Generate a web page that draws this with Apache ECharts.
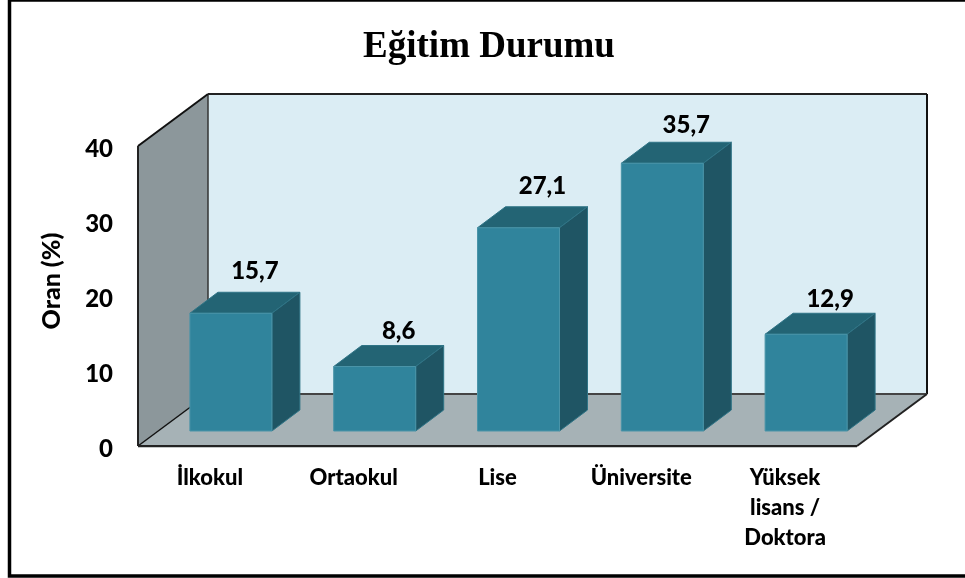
<!DOCTYPE html>
<html>
<head>
<meta charset="utf-8">
<style>html,body{margin:0;padding:0;background:#fff}#chart{width:965px;height:578px}</style>
<script src="https://cdn.jsdelivr.net/npm/echarts@6/dist/echarts.min.js"></script>
</head>
<body>
<div id="chart"></div>
<script>
var categories = ['İlkokul', 'Ortaokul', 'Lise', 'Üniversite', 'Yüksek\nlisans /\nDoktora'];
var values = [15.7, 8.6, 27.1, 35.7, 12.9];
var yTicks = [0, 10, 20, 30, 40];

// 3d look, in pixels
var depthX = 70, depthY = 52;
var barDepthX = 28, barDepthY = 21;
var barShiftX = 21, barShiftY = 15;
var barWidth = 82;
var labelLift = [42, 35, 41, 38, 35];

function poly(points, fill, stroke, lineWidth) {
	return {
		type: 'polygon',
		shape: { points: points },
		style: { fill: fill, stroke: stroke || null, lineWidth: lineWidth || 0 }
	};
}
function line(x1, y1, x2, y2, color, w) {
	return {
		type: 'line',
		shape: { x1: x1, y1: y1, x2: x2, y2: y2 },
		style: { stroke: color, lineWidth: w }
	};
}

// walls and floor, from the axis rectangle
function renderWalls(params, api) {
	var c = params.coordSys;
	var l = c.x, r = c.x + c.width, t = c.y, b = c.y + c.height;
	var dx = depthX, dy = depthY;
	return {
		type: 'group',
		children: [
			poly([[l + dx, t - dy], [r + dx, t - dy], [r + dx, b - dy], [l + dx, b - dy]], '#dbedf4'),
			poly([[l, t], [l + dx, t - dy], [l + dx, b - dy], [l, b]], '#8c979b'),
			poly([[l, b], [l + dx, b - dy], [r + dx, b - dy], [r, b]], '#a6b2b6'),
			line(l + dx, t - dy, r + dx, t - dy, '#222', 2),
			line(r + dx, t - dy, r + dx, b - dy, '#111', 2),
			line(l + dx, t - dy, l + dx, b - dy, '#333', 1.5),
			line(l + dx, b - dy, r + dx, b - dy, '#444', 2),
			line(l, t, l + dx, t - dy, '#111', 2),
			line(l, t, l, b, '#222', 2),
			line(l, b, l + dx, b - dy, '#111', 1.5),
			line(l, b + 1, r, b + 1, '#8a8f90', 1),
			line(l, b, r, b, '#222', 2),
			line(r, b, r + dx, b - dy, '#222', 2)
		]
	};
}

function renderBar(params, api) {
	var i = api.value(0);
	var top = api.coord([i, api.value(1)]);
	var base = api.coord([i, 0]);
	var x0 = top[0] + barShiftX - barWidth / 2;
	var x1 = x0 + barWidth;
	var y0 = top[1] - barShiftY;
	var y1 = base[1] - barShiftY;
	var ax = barDepthX, ay = barDepthY;
	return {
		type: 'group',
		children: [
			poly([[x0, y0], [x0 + ax, y0 - ay], [x1 + ax, y0 - ay], [x1, y0]], '#236474', '#2f7486', 1),
			poly([[x1, y0], [x1 + ax, y0 - ay], [x1 + ax, y1 - ay], [x1, y1]], '#1f5564', '#2f7486', 1),
			poly([[x0, y0], [x1, y0], [x1, y1], [x0, y1]], '#30849c', '#4a94a8', 1),
			{
				type: 'text',
				style: {
					x: top[0] + barShiftX + 24,
					y: y0 - labelLift[i],
					text: String(api.value(1)).replace('.', ','),
					fill: '#000',
					font: '900 24px Lato',
					align: 'center',
					verticalAlign: 'middle'
				}
			}
		]
	};
}

var barData = [];
for (var i = 0; i < values.length; i++) {
	barData.push([i, values[i]]);
}

var option = {
	animation: false,
	title: {
		text: 'Eğitim Durumu',
		left: 484,
		top: 24,
		textAlign: 'center',
		textStyle: { fontFamily: 'Liberation Serif', fontWeight: 'bold', fontSize: 37, color: '#000' }
	},
	grid: { left: 138, top: 146, width: 719, height: 300 },
	xAxis: {
		type: 'category',
		data: categories,
		axisLine: { show: false },
		axisTick: { show: false },
		axisLabel: {
			interval: 0,
			margin: 17,
			color: '#000',
			fontFamily: 'Lato',
			fontWeight: 900,
			fontSize: 22,
			lineHeight: 30,
			verticalAlign: 'top'
		}
	},
	yAxis: {
		type: 'value',
		min: yTicks[0],
		max: yTicks[yTicks.length - 1],
		interval: yTicks[1] - yTicks[0],
		name: 'Oran (%)',
		nameLocation: 'middle',
		nameGap: 74,
		nameTextStyle: { color: '#000', fontFamily: 'Lato', fontWeight: 900, fontSize: 25, padding: [0, 0, 0, 30] },
		axisLine: { show: false },
		axisTick: { show: false },
		splitLine: { show: false },
		axisLabel: { margin: 25, color: '#000', fontFamily: 'Lato', fontWeight: 900, fontSize: 24, verticalAlign: 'top', lineHeight: 7 }
	},
	graphic: [
		{ type: 'rect', silent: true, shape: { x: 9.5, y: 0, width: 970, height: 576 }, style: { fill: null, stroke: '#000', lineWidth: 3.5 } }
	],
	series: [
		{ type: 'custom', renderItem: renderWalls, data: [0], silent: true, z: 1 },
		{ type: 'custom', renderItem: renderBar, data: barData, encode: { x: 0, y: 1 }, silent: true, z: 2 }
	]
};
echarts.init(document.getElementById('chart')).setOption(option);
</script>
</body>
</html>
